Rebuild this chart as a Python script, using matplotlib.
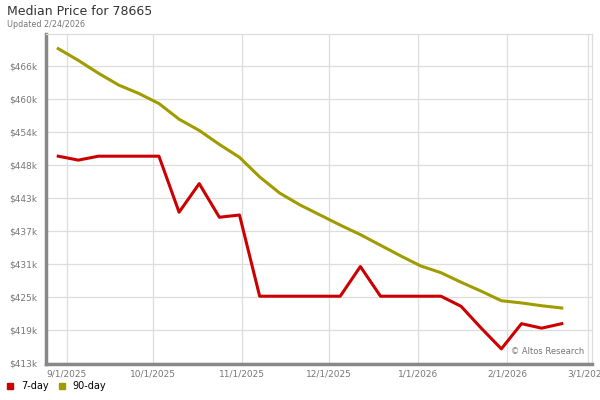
import matplotlib
matplotlib.use("Agg")
import matplotlib.pyplot as plt
import numpy as np
import pandas as pd

dates = pd.to_datetime([
    "2025-08-29", "2025-09-05", "2025-09-12", "2025-09-19", "2025-09-26",
    "2025-10-03", "2025-10-10", "2025-10-17", "2025-10-24", "2025-10-31",
    "2025-11-07", "2025-11-14", "2025-11-21", "2025-11-28", "2025-12-05",
    "2025-12-12", "2025-12-19", "2025-12-26", "2026-01-02", "2026-01-09",
    "2026-01-16", "2026-01-23", "2026-01-30", "2026-02-06", "2026-02-13",
    "2026-02-20",
])

# median price, thousands of dollars
price_7day = [449.9, 449.2, 449.9, 449.9, 449.9, 449.9, 439.9, 445.0, 439.0, 439.4,
              424.9, 424.9, 424.9, 424.9, 424.9, 430.2, 424.9, 424.9, 424.9, 424.9,
              423.1, 419.2, 415.5, 420.0, 419.2, 420.0]
price_90day = [469.1, 467.0, 464.7, 462.6, 461.1, 459.3, 456.5, 454.5, 452.0, 449.7,
               446.2, 443.3, 441.2, 439.4, 437.6, 435.9, 434.0, 432.1, 430.3, 429.1,
               427.4, 425.8, 424.1, 423.7, 423.2, 422.8]

y_labels = ["$413k", "$419k", "$425k", "$431k", "$437k",
            "$443k", "$448k", "$454k", "$460k", "$466k"]
x_ticks = pd.to_datetime(["2025-09-01", "2025-10-01", "2025-11-01", "2025-12-01",
                          "2026-01-01", "2026-02-01", "2026-03-01"])
x_labels = ["9/1/2025", "10/1/2025", "11/1/2025", "12/1/2025",
            "1/1/2026", "2/1/2026", "3/1/2026"]

red = "#cc0000"
olive = "#a09c00"

fig = plt.figure(figsize=(6, 4), dpi=100)
ax = fig.add_axes([46 / 600, 1 - 364 / 400, 546 / 600, 330 / 400])

ax.plot(dates, price_90day, color=olive, lw=2.2, solid_joinstyle="round", zorder=3)
ax.plot(dates, price_7day, color=red, lw=2.2, solid_joinstyle="round", zorder=4)

step = 5.889
yt = 413.0 + step * np.arange(10)
ax.set_yticks(yt)
ax.set_yticklabels(y_labels)
ax.set_ylim(412.8, 413.0 + step * 9.97)

ax.set_xticks(x_ticks)
ax.set_xticklabels(x_labels)
ax.set_xlim(pd.Timestamp("2025-08-24 18:00"), pd.Timestamp("2026-03-02 12:00"))

ax.grid(True, color="#dddddd", lw=0.9)
ax.set_axisbelow(True)
ax.tick_params(length=0, labelsize=6.5, labelcolor="#777777", pad=4)
ax.tick_params(axis="y", pad=6)

for side in ["top", "right"]:
    ax.spines[side].set_color("#dddddd")
    ax.spines[side].set_linewidth(0.9)
for side in ["left", "bottom"]:
    ax.spines[side].set_color("#888888")
    ax.spines[side].set_linewidth(2.5)

ax.text(0.985, 0.025, "© Altos Research", transform=ax.transAxes, ha="right",
        va="bottom", fontsize=6, color="#777777",
        bbox=dict(facecolor="white", edgecolor="none", pad=1.5))

fig.text(7 / 600, 1 - 5 / 400, "Median Price for 78665", fontsize=9,
         color="#333333", va="top", ha="left")
fig.text(7 / 600, 1 - 20 / 400, "Updated 2/24/2026", fontsize=5.8,
         color="#777777", va="top", ha="left")

# legend
fig.patches.append(plt.Rectangle((7 / 600, 1 - 389 / 400), 6 / 600, 6 / 400,
                                 transform=fig.transFigure, color=red))
fig.text(21 / 600, 1 - 386 / 400, "7-day", fontsize=7, va="center", ha="left")
fig.patches.append(plt.Rectangle((59 / 600, 1 - 389 / 400), 6 / 600, 6 / 400,
                                 transform=fig.transFigure, color=olive))
fig.text(72 / 600, 1 - 386 / 400, "90-day", fontsize=7, va="center", ha="left")

fig.savefig("out.png", dpi=100)
